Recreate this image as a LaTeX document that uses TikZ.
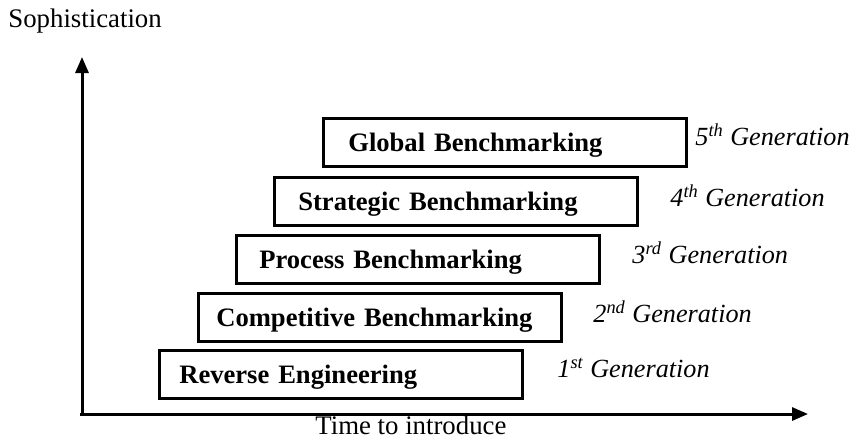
\documentclass[tikz,border=0pt]{standalone}
\usepackage{fontspec}
\setmainfont{Liberation Serif}
\usetikzlibrary{arrows.meta}

\begin{document}
\begin{tikzpicture}[x=0.5pt,y=-0.5pt,
		axis/.style={line width=1.5pt,-{Triangle[length=8pt,width=6.5pt]}},
		bench/.style={draw,line width=1.3pt,anchor=north west,minimum height=24pt,
			inner xsep=10pt,text width=161.5pt,align=left,text depth=0pt,
			font=\fontsize{13.3}{15}\selectfont\bfseries},
		gen/.style={anchor=base west,inner sep=0pt,font=\fontsize{13.1}{15}\selectfont\itshape},
		lbl/.style={anchor=base west,inner sep=0pt,font=\fontsize{13.4}{15}\selectfont}]
	\useasboundingbox (0,0) rectangle (854,445);

	\coordinate (origin) at (82,414);
	\coordinate (ytip) at (82,57);
	\coordinate (xtip) at (808,414);
	\draw[axis] (origin) -- (ytip);
	\draw[axis] (80,414) -- (xtip);
	\node[lbl] (ylabel) at (8,27) {Sophistication};
	\node[lbl] (xlabel) at (315,434) {Time to introduce};

	\node[bench] (global) at (322,117) {\hspace*{2.5pt}Global Benchmarking};
	\node[bench] (strategic) at (273,176) {\hspace*{2pt}Strategic Benchmarking};
	\node[bench] (process) at (235,234) {\hspace*{1.5pt}Process Benchmarking};
	\node[bench] (competitive) at (197,292) {\hspace*{-1pt}Competitive Benchmarking};
	\node[bench] (reverse) at (158,349) {Reverse Engineering};

	\node[gen] (gen5) at (695,145) {5\textsuperscript{th} Generation};
	\node[gen] (gen4) at (670,206) {4\textsuperscript{th} Generation};
	\node[gen] (gen3) at (632,263) {3\textsuperscript{rd} Generation};
	\node[gen] (gen2) at (593,322) {2\textsuperscript{nd} Generation};
	\node[gen] (gen1) at (557,377) {1\textsuperscript{st} Generation};
\end{tikzpicture}
\end{document}
